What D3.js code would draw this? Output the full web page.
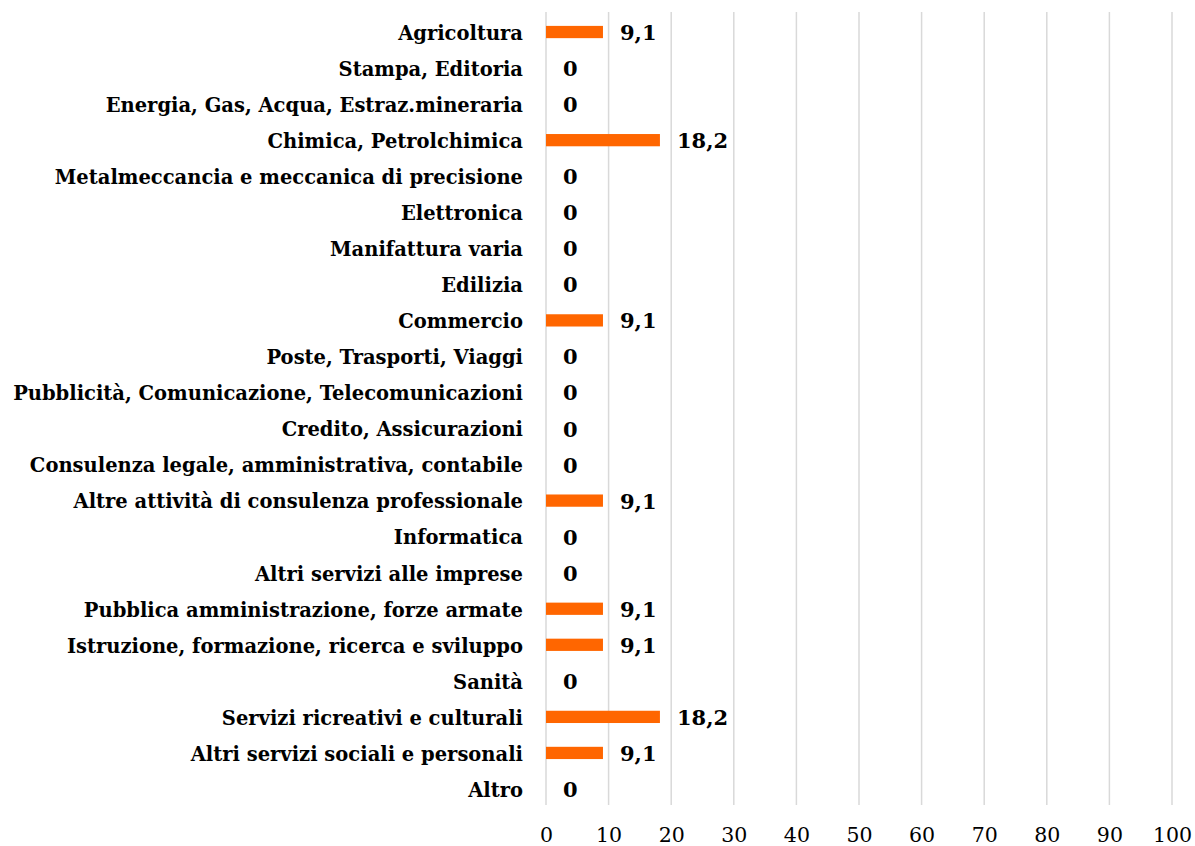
<!DOCTYPE html>
<html>
<head>
<meta charset="utf-8">
<script src="https://cdn.jsdelivr.net/npm/d3@7"></script>
<style>
  body { margin: 0; background: #fff; }
  text { font-family: "DejaVu Serif", "Liberation Serif", serif; }
</style>
</head>
<body>
<div id="wrapper"></div>
<script>
const categories = [
    "Agricoltura",
    "Stampa, Editoria",
    "Energia, Gas, Acqua, Estraz.mineraria",
    "Chimica, Petrolchimica",
    "Metalmeccancia e meccanica di precisione",
    "Elettronica",
    "Manifattura varia",
    "Edilizia",
    "Commercio",
    "Poste, Trasporti, Viaggi",
    "Pubblicità, Comunicazione, Telecomunicazioni",
    "Credito, Assicurazioni",
    "Consulenza legale, amministrativa, contabile",
    "Altre attività di consulenza professionale",
    "Informatica",
    "Altri servizi alle imprese",
    "Pubblica amministrazione, forze armate ",
    "Istruzione, formazione, ricerca e sviluppo",
    "Sanità",
    "Servizi ricreativi e culturali",
    "Altri servizi sociali e personali",
    "Altro "
];
const values = [9.1, 0, 0, 18.2, 0, 0, 0, 0, 9.1, 0, 0, 0, 0, 9.1, 0, 0, 9.1, 9.1, 0, 18.2, 9.1, 0];
const xTicks = [0, 10, 20, 30, 40, 50, 60, 70, 80, 90, 100];

const data = categories.map((c, i) => ({ cat: c, val: values[i] }));

function buildPlot() {
    var dimention = {
        width: 1195,
        height: 846,
        margin: { top: 14, left: 546, bottom: 39, right: 23 }
    };
    dimention.boundedWidth = dimention.width - dimention.margin.left - dimention.margin.right;
    dimention.boundedHeight = dimention.height - dimention.margin.top - dimention.margin.bottom;

    const svg = d3.select("#wrapper").append("svg")
        .attr("width", dimention.width)
        .attr("height", dimention.height);

    const bounded = svg.append("g")
        .attr("transform", `translate(${dimention.margin.left},${dimention.margin.top})`);

    const xScaler = d3.scaleLinear()
        .domain([0, 100])
        .range([0, dimention.boundedWidth]);

    const yScaler = d3.scaleBand()
        .domain(categories)
        .range([0, dimention.boundedHeight])
        .paddingInner(0.66)
        .paddingOuter(0.33);

    // gridlines
    bounded.append("g")
        .selectAll("line")
        .data(xTicks)
        .join("line")
        .attr("x1", d => xScaler(d))
        .attr("x2", d => xScaler(d))
        .attr("y1", -2)
        .attr("y2", dimention.boundedHeight - 2)
        .attr("stroke", "#d9d9d9")
        .attr("stroke-width", 1.5);

    // x axis labels
    const xAxis = bounded.append("g")
        .attr("transform", `translate(0,${dimention.boundedHeight})`)
        .call(d3.axisBottom(xScaler).tickValues(xTicks).tickSize(0).tickPadding(20));
    xAxis.select(".domain").remove();
    xAxis.selectAll("text")
        .attr("font-family", "DejaVu Serif, serif")
        .attr("font-size", 20.5)
        .attr("fill", "#000");

    // y axis labels
    const yAxis = bounded.append("g")
        .call(d3.axisLeft(yScaler).tickSize(0).tickPadding(23));
    yAxis.select(".domain").remove();
    yAxis.selectAll("text")
        .attr("font-family", "DejaVu Serif, serif")
        .attr("font-weight", "bold")
        .attr("font-size", 19.5)
        .attr("dy", "0.4em")
        .attr("fill", "#000");

    // bars
    bounded.append("g")
        .selectAll("rect")
        .data(data)
        .join("rect")
        .attr("x", xScaler(0))
        .attr("y", d => yScaler(d.cat))
        .attr("height", yScaler.bandwidth())
        .attr("width", d => xScaler(d.val) - xScaler(0))
        .attr("fill", "#ff6600");

    // value labels
    bounded.append("g")
        .selectAll("text")
        .data(data)
        .join("text")
        .attr("x", d => xScaler(d.val) + 17)
        .attr("y", d => yScaler(d.cat) + yScaler.bandwidth() / 2)
        .attr("dy", "0.38em")
        .attr("font-weight", "bold")
        .attr("font-size", 21)
        .attr("fill", "#000")
        .text(d => String(d.val).replace(".", ","));
}

buildPlot();
</script>
</body>
</html>
